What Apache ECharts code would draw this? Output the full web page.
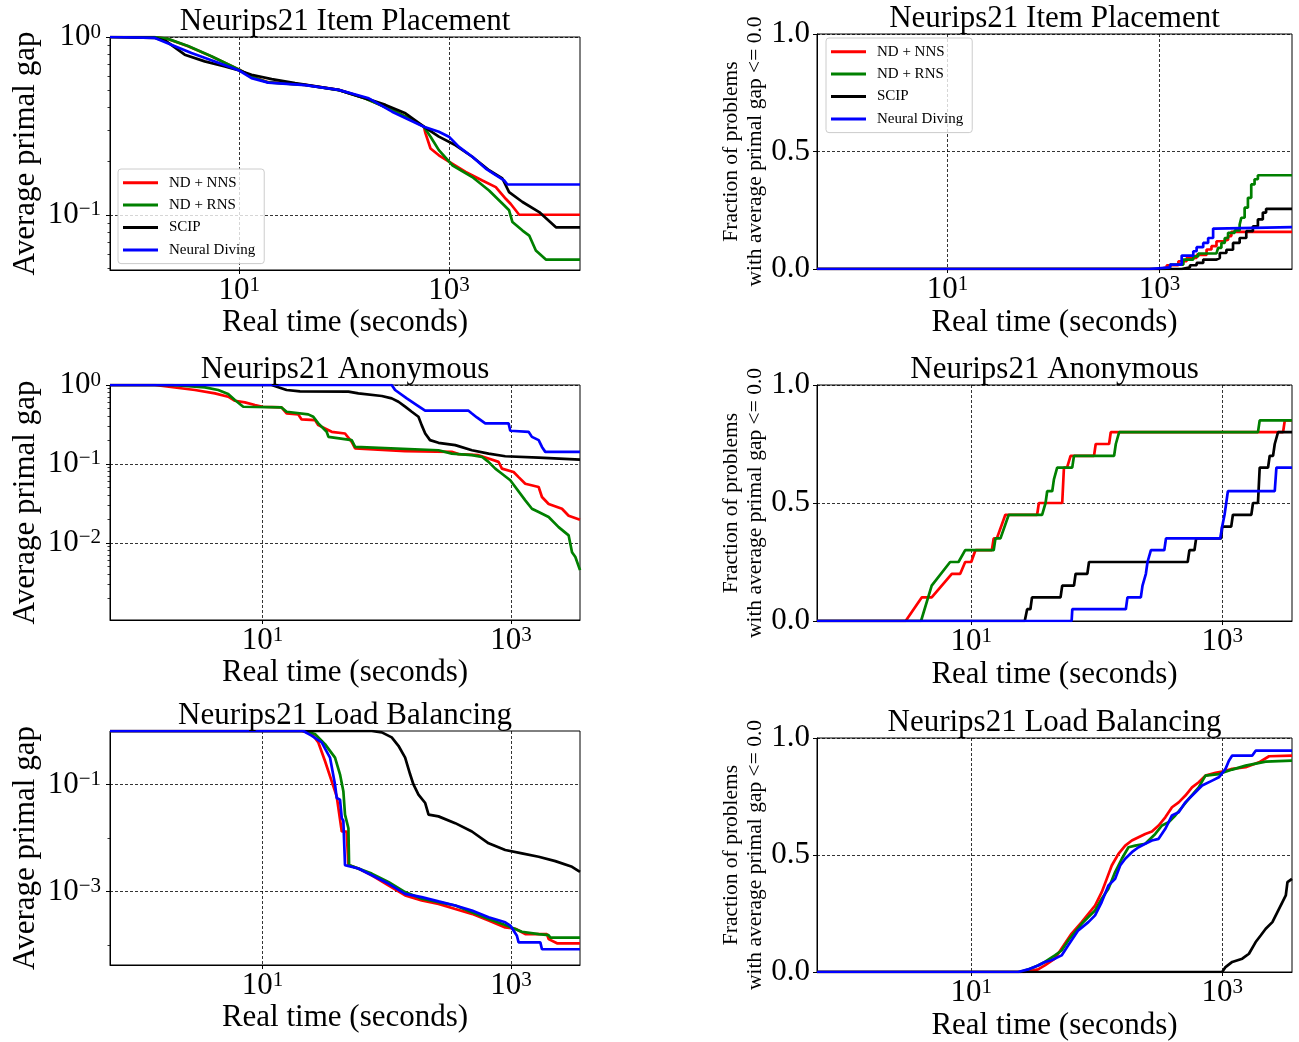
<!DOCTYPE html>
<html>
<head>
<meta charset="UTF-8">
<title>Neurips21 primal gap</title>
<script src="https://cdn.jsdelivr.net/npm/echarts/dist/echarts.min.js"></script>
<style>html,body{margin:0;padding:0;background:#fff;}</style>
</head>
<body>
<div id="main" style="width:1299px;height:1042px;"></div>
<script>
var FONT = '"Liberation Serif", "Times New Roman", serif';
var methods = ['ND + NNS', 'ND + RNS', 'SCIP', 'Neural Diving'];
var colors = ['#ff0000', '#008000', '#000000', '#0000ff'];
var titles = ['Neurips21 Item Placement', 'Neurips21 Item Placement',
  'Neurips21 Anonymous', 'Neurips21 Anonymous',
  'Neurips21 Load Balancing', 'Neurips21 Load Balancing'];

// ---- Item Placement: average primal gap (log-log)
var itemGapNNS = [[0.585,1],[1.55,1],[2.09,0.974],[3.25,0.886],[5.43,0.778],[10,0.654],[13.1,0.6],[18.9,0.557],[42.5,0.538],[88.5,0.504],[159,0.452],[287,0.389],[446,0.341],[577,0.313],[598,0.287],[668,0.236],[802,0.216],[1000,0.199],[1445,0.174],[2084,0.156],[2800,0.143],[3485,0.123],[3890,0.115],[4677,0.1],[17800,0.1]];
var itemGapRNS = [[0.585,1],[1.55,1],[2.09,0.976],[3.25,0.89],[5.43,0.78],[10,0.654],[13.1,0.598],[18.9,0.555],[42.5,0.537],[88.5,0.503],[159,0.451],[287,0.389],[446,0.341],[577,0.313],[668,0.275],[802,0.231],[1077,0.19],[1671,0.163],[2414,0.137],[3360,0.113],[3750,0.106],[4036,0.091],[5036,0.0815],[5833,0.0764],[6750,0.063],[8410,0.056],[17800,0.056]];
var itemGapSCIP = [[0.585,1],[1.55,0.99],[2.02,0.945],[3.02,0.795],[4.69,0.729],[7.3,0.683],[10,0.648],[13.1,0.613],[20.4,0.579],[34.1,0.55],[88.5,0.504],[172,0.446],[248,0.415],[385,0.372],[577,0.313],[802,0.275],[1159,0.246],[1671,0.212],[2414,0.178],[3236,0.16],[3750,0.134],[5036,0.118],[7265,0.1035],[10490,0.085],[17800,0.085]];
var itemGapND = [[0.585,1],[1.55,0.99],[2.25,0.905],[3.5,0.812],[5.85,0.729],[10,0.648],[13.1,0.587],[18.9,0.554],[42.5,0.536],[88.5,0.504],[172,0.452],[287,0.38],[577,0.313],[802,0.293],[1000,0.275],[1247,0.241],[1671,0.212],[2245,0.182],[2800,0.167],[3360,0.156],[3615,0.148],[17800,0.148]];

// ---- Item Placement: fraction solved (step)
var itemFracNNS = [[0.585,0],[1014,0.007],[1171,0.016],[1507,0.033],[1803,0.047],[2239,0.06],[2780,0.083],[3093,0.097],[3448,0.118],[3981,0.125],[4436,0.14],[4767,0.158],[17800,0.158]];
var itemFracRNS = [[0.585,0],[1130,0.007],[1259,0.019],[1679,0.04],[2083,0.054],[2321,0.066],[3448,0.068],[3574,0.09],[3838,0.111],[4127,0.132],[4436,0.154],[5120,0.164],[5705,0.189],[5915,0.218],[6357,0.261],[6829,0.303],[7340,0.36],[7890,0.382],[8480,0.399],[17800,0.399]];
var itemFracSCIP = [[0.585,0],[1619,0.007],[1939,0.016],[2239,0.026],[2585,0.04],[3448,0.047],[3706,0.068],[4277,0.082],[4940,0.111],[5705,0.132],[6590,0.161],[7606,0.182],[8480,0.211],[9440,0.24],[10140,0.256],[17800,0.256]];
var itemFracND = [[0.585,0],[805,0.007],[1259,0.019],[1619,0.057],[2083,0.0755],[2239,0.093],[2585,0.111],[2877,0.132],[3206,0.172],[3373,0.178],[17800,0.178]];

// ---- Anonymous: average primal gap
var anonGapNNS = [[0.59,1],[1.355,1],[2.85,0.864],[4.13,0.784],[5.28,0.711],[5.98,0.632],[7.2,0.602],[8.67,0.557],[10,0.53],[14.2,0.52],[15.6,0.436],[19.4,0.424],[20.6,0.366],[26.4,0.359],[28.1,0.31],[36,0.255],[46.1,0.243],[52.2,0.19],[55.6,0.157],[140.6,0.145],[334,0.142],[378,0.133],[548,0.129],[660,0.117],[795,0.106],[846,0.087],[1051,0.079],[1153,0.068],[1305,0.056],[1672,0.051],[1778,0.038],[2013,0.031],[2577,0.027],[2917,0.022],[3600,0.0196]];
var anonGapRNS = [[0.59,1],[1.85,1],[3.43,0.934],[4.39,0.864],[5.28,0.768],[5.98,0.645],[6.98,0.53],[14.2,0.52],[15.6,0.458],[23.3,0.424],[25.6,0.396],[28.1,0.326],[32.8,0.255],[33.9,0.22],[52.2,0.2],[55.6,0.164],[261,0.149],[334,0.135],[485,0.129],[583,0.123],[660,0.106],[748,0.087],[846,0.075],[988,0.062],[1305,0.0345],[1476,0.027],[1672,0.0245],[2013,0.0212],[2421,0.0158],[2917,0.0124],[3105,0.0076],[3304,0.0066],[3600,0.0045]];
var anonGapSCIP = [[0.59,1],[11.8,1],[15.6,0.864],[20,0.83],[49.1,0.823],[59.1,0.783],[91.2,0.725],[109.6,0.677],[124.2,0.614],[140.6,0.531],[159,0.458],[180,0.396],[191,0.31],[204,0.243],[223,0.2],[261,0.185],[356,0.173],[485,0.149],[661,0.135],[900,0.125],[1672,0.12],[3600,0.1135]];
var anonGapND = [[0.59,1],[109.6,1],[116.7,0.864],[144.9,0.677],[174.5,0.557],[203.6,0.472],[455.6,0.472],[485,0.436],[532,0.388],[621,0.326],[957,0.326],[988,0.263],[1387,0.255],[1476,0.22],[1672,0.2],[1778,0.164],[1891,0.142],[3600,0.142]];

// ---- Anonymous: fraction solved
var anonFracNNS = [[0.59,0],[3.0,0],[4.03,0.1],[4.84,0.1],[7.0,0.2],[8.17,0.2],[8.95,0.25],[10,0.25],[10.8,0.3],[14.6,0.3],[15.1,0.35],[16,0.35],[18.7,0.45],[33.5,0.45],[34.6,0.5],[53.1,0.5],[54.8,0.65],[58,0.65],[61.9,0.7],[95.2,0.7],[98.2,0.75],[125.5,0.75],[129.4,0.8],[3055,0.8],[3155,0.85],[3600,0.85]];
var anonFracRNS = [[0.59,0],[3.98,0],[4.84,0.15],[6.79,0.25],[7.92,0.25],[8.95,0.3],[15.1,0.3],[15.6,0.35],[17.1,0.35],[19.9,0.45],[36.7,0.45],[39.1,0.5],[40.3,0.55],[44.2,0.55],[45.6,0.6],[48.4,0.65],[63.8,0.65],[65.9,0.7],[137.6,0.7],[142,0.75],[151,0.8],[1928,0.8],[1990,0.85],[3600,0.85]];
var anonFracSCIP = [[0.59,0],[26.7,0],[27.9,0.05],[29.6,0.05],[30.5,0.1],[51.5,0.1],[53.1,0.15],[65.9,0.15],[67.9,0.2],[84.2,0.2],[86.8,0.25],[531,0.25],[548,0.3],[601,0.3],[620,0.35],[982,0.35],[1000,0.4],[1180,0.4],[1217,0.45],[1707,0.45],[1760,0.5],[1928,0.5],[1990,0.65],[2319,0.65],[2392,0.7],[2543,0.7],[2623,0.75],[2787,0.8],[3600,0.8]];
var anonFracND = [[0.59,0],[63.1,0],[63.9,0.05],[170.6,0.05],[175.8,0.1],[224.7,0.1],[231.7,0.15],[246.5,0.2],[254,0.25],[270.4,0.3],[345.6,0.3],[356.6,0.35],[964,0.35],[1000,0.4],[1044,0.45],[1077,0.5],[1110,0.55],[2623,0.55],[2704,0.65],[3600,0.65]];

// ---- Load Balancing: average primal gap
var loadGapNNS = [[0.59,1],[20.6,1],[24.8,0.904],[28.1,0.611],[31.8,0.275],[37.1,0.093],[39.5,0.0603],[43.4,0.0132],[47.5,0.0132],[49.1,0.0031],[59.1,0.00268],[75.7,0.002],[103,0.0013],[140.6,0.00084],[191,0.00068],[261,0.000585],[356,0.00047],[485,0.00038],[661,0.000284],[900,0.000212],[1085,0.0002],[1305,0.000159],[1950,0.000159],[2013,0.000128],[2350,0.000107],[3600,0.000107]];
var loadGapRNS = [[0.59,1],[21.9,1],[26.4,0.877],[31.8,0.569],[38.3,0.318],[42,0.155],[44.7,0.075],[46.1,0.0272],[49.1,0.0152],[49.7,0.0031],[75.7,0.00215],[103,0.0015],[140.6,0.00097],[191,0.00073],[261,0.00063],[356,0.000544],[485,0.000407],[661,0.000305],[900,0.000235],[1226,0.000176],[1672,0.000159],[2013,0.000152],[2075,0.000137],[3600,0.000137]];
var loadGapSCIP = [[0.59,1],[75.7,1],[91.2,0.944],[109.6,0.76],[124.2,0.529],[140.6,0.318],[154.2,0.155],[164,0.1],[180,0.0648],[204,0.045],[217,0.0272],[261,0.0253],[356,0.0189],[485,0.0132],[661,0.00794],[900,0.00594],[1226,0.00514],[1672,0.00445],[2278,0.00368],[3105,0.00288],[3600,0.00232]];
var loadGapND = [[0.59,1],[21.3,1],[24.8,0.817],[29.9,0.611],[34.9,0.318],[38.3,0.1],[39.5,0.056],[42,0.052],[43.4,0.0235],[44.7,0.021],[46.1,0.0031],[59.1,0.00268],[75.7,0.002],[103,0.0014],[140.6,0.0009],[191,0.00078],[261,0.00065],[356,0.000544],[485,0.000438],[661,0.000328],[900,0.000264],[988,0.00023],[1117,0.000148],[1153,0.000111],[1725,0.000111],[1778,0.0000828],[3600,0.0000828]];

// ---- Load Balancing: fraction solved
var loadFracNNS = [[0.59,0],[26.7,0],[34.1,0.011],[38.6,0.028],[46.4,0.057],[52.5,0.1],[63.1,0.164],[75.9,0.213],[85.8,0.249],[97,0.284],[109.6,0.341],[120.2,0.398],[131.8,0.455],[149,0.505],[168.7,0.54],[190.6,0.562],[215.4,0.576],[243.6,0.59],[275.4,0.6],[311.4,0.626],[352,0.661],[398,0.704],[450,0.725],[509,0.754],[575,0.789],[650,0.811],[735,0.839],[884,0.851],[1000,0.856],[1202,0.868],[1537,0.875],[1965,0.896],[2363,0.922],[3600,0.925]];
var loadFracRNS = [[0.59,0],[24.4,0],[28.4,0.011],[34.1,0.028],[38.6,0.043],[46.4,0.071],[52.5,0.092],[59.3,0.135],[67.1,0.171],[75.9,0.206],[85.8,0.235],[97,0.263],[109.6,0.313],[124,0.356],[140.2,0.427],[158.5,0.484],[179.2,0.533],[202.6,0.54],[243.6,0.548],[292.8,0.59],[331,0.626],[374,0.64],[423,0.669],[478.6,0.704],[541,0.74],[650,0.789],[735,0.839],[940,0.846],[1202,0.865],[1537,0.882],[2223,0.899],[3600,0.903]];
var loadFracSCIP = [[0.59,0],[1000,0],[1063,0.021],[1202,0.043],[1445,0.057],[1634,0.078],[1848,0.128],[2026,0.156],[2223,0.185],[2512,0.213],[2754,0.256],[3020,0.299],[3212,0.327],[3312,0.384],[3600,0.398]];
var loadFracND = [[0.59,0],[23.6,0],[28.4,0.011],[34.1,0.028],[38.6,0.043],[43.6,0.05],[52.5,0.071],[59.3,0.114],[71.3,0.178],[85.8,0.213],[97,0.242],[109.6,0.299],[124,0.37],[140.2,0.398],[153.8,0.455],[168.7,0.484],[190.6,0.512],[215.4,0.533],[243.6,0.548],[275.4,0.562],[311.4,0.569],[352,0.612],[398,0.669],[450,0.683],[509,0.725],[611.8,0.768],[691.6,0.797],[831.8,0.818],[940,0.832],[1063,0.868],[1131,0.903],[1202,0.925],[1738,0.925],[1848,0.946],[3600,0.946]];

var panelData = [
  [itemGapNNS, itemGapRNS, itemGapSCIP, itemGapND],
  [itemFracNNS, itemFracRNS, itemFracSCIP, itemFracND],
  [anonGapNNS, anonGapRNS, anonGapSCIP, anonGapND],
  [anonFracNNS, anonFracRNS, anonFracSCIP, anonFracND],
  [loadGapNNS, loadGapRNS, loadGapSCIP, loadGapND],
  [loadFracNNS, loadFracRNS, loadFracSCIP, loadFracND]
];
var xRanges = [[0.585, 17800], [0.585, 17800], [0.59, 3600], [0.59, 3600], [0.59, 3600], [0.59, 3600]];
var yLogMin = [0.0489, null, 0.00105, null, 0.000042, null];
var yLogTicks = [[1, 0.1], null, [1, 0.1, 0.01], null, [0.1, 0.001], null];
var yMinorTicks = [
  [0.05, 0.06, 0.07, 0.08, 0.09, 0.2, 0.3, 0.4, 0.5, 0.6, 0.7, 0.8, 0.9],
  null,
  [0.002, 0.003, 0.004, 0.005, 0.006, 0.007, 0.008, 0.009, 0.02, 0.03, 0.04, 0.05, 0.06, 0.07, 0.08, 0.09,
   0.2, 0.3, 0.4, 0.5, 0.6, 0.7, 0.8, 0.9],
  null,
  [0.0001, 0.01],
  null
];
var xTicks = [10, 1000];

var grids = [
  {left: 110, top: 37, width: 470, height: 233},
  {left: 817, top: 34, width: 475, height: 235},
  {left: 110, top: 385, width: 470, height: 235},
  {left: 817, top: 385, width: 475, height: 236},
  {left: 110, top: 731, width: 470, height: 234},
  {left: 817, top: 738, width: 475, height: 235}
];
var xNameGap = [37, 38, 35, 38, 37, 38];

var dash = {color: '#000', width: 0.8, type: [3, 2]};
var supRich = {
  b: {fontFamily: FONT, fontSize: 31, color: '#000', lineHeight: 31, padding: [5, 0, 0, 0], verticalAlign: 'bottom'},
  s: {fontFamily: FONT, fontSize: 21, color: '#000', lineHeight: 21, verticalAlign: 'top'}
};
function powLabel(v) {
  var e = Math.round(Math.log(v) / Math.LN10);
  return '{b|10}{s|' + (e < 0 ? '\u2212' + (-e) : e) + '}';
}

var option = {
  animation: false,
  backgroundColor: '#ffffff',
  title: [], grid: [], xAxis: [], yAxis: [], series: [],
  legend: []
};

for (var i = 0; i < 6; i++) {
  var g = grids[i];
  var isGap = (i % 2 === 0);
  option.grid.push({left: g.left, top: g.top, width: g.width, height: g.height,
    show: true, borderColor: '#000', borderWidth: 1, containLabel: false});
  option.title.push({
    text: titles[i], left: g.left + g.width / 2, top: g.top - 31, textAlign: 'center', padding: 0,
    textStyle: {fontFamily: FONT, fontSize: 31, fontWeight: 'normal', color: '#000'}
  });
  option.xAxis.push({
    type: 'log', logBase: 10, gridIndex: i, min: xRanges[i][0], max: xRanges[i][1],
    name: 'Real time (seconds)', nameLocation: 'middle', nameGap: xNameGap[i],
    nameTextStyle: {fontFamily: FONT, fontSize: 31, color: '#000'},
    axisLine: {show: true, lineStyle: {color: '#000', width: 1}},
    axisTick: {show: true, length: 4, inside: false, customValues: xTicks, lineStyle: {color: '#000'}},
    axisLabel: {customValues: xTicks, formatter: powLabel, rich: supRich, margin: 5},
    splitLine: {show: true, lineStyle: dash}
  });
  if (isGap) {
    option.yAxis.push({
      type: 'log', logBase: 10, gridIndex: i, min: yLogMin[i], max: 1,
      name: 'Average primal gap', nameLocation: 'middle', nameGap: 69,
      nameTextStyle: {fontFamily: FONT, fontSize: 31, color: '#000'},
      axisLine: {show: true, lineStyle: {color: '#000', width: 1}},
      axisTick: {show: true, length: 4, customValues: yLogTicks[i], lineStyle: {color: '#000'}},
      axisLabel: {customValues: yLogTicks[i], formatter: powLabel, rich: supRich, margin: 9},
      splitLine: {show: true, lineStyle: dash}
    });
  } else {
    option.yAxis.push({
      type: 'value', gridIndex: i, min: 0, max: 1, interval: 0.5,
      name: 'Fraction of problems\nwith average primal gap <= 0.0', nameLocation: 'middle', nameGap: 46,
      nameTextStyle: {fontFamily: FONT, fontSize: 21.5, lineHeight: 24, color: '#000'},
      axisLine: {show: true, lineStyle: {color: '#000', width: 1}},
      axisTick: {show: true, length: 4, lineStyle: {color: '#000'}},
      axisLabel: {fontFamily: FONT, fontSize: 31, color: '#000', margin: 7,
        formatter: function (v) { return v.toFixed(1); }},
      splitLine: {show: true, lineStyle: dash}
    });
  }
  for (var k = 0; k < 4; k++) {
    option.series.push({
      name: methods[k], type: 'line', xAxisIndex: i, yAxisIndex: i,
      data: panelData[i][k], showSymbol: false, symbol: 'none',
      step: (i === 1) ? 'end' : false,
      lineStyle: {color: colors[k], width: 2.7}, itemStyle: {color: colors[k]},
      clip: true
    });
  }
}

// minor ticks of the log y axes, as a second tick-only axis on the same grid
for (var j = 0; j < 6; j++) {
  if (!yMinorTicks[j]) continue;
  option.yAxis.push({
    type: 'log', logBase: 10, gridIndex: j, position: 'left', offset: 0,
    min: yLogMin[j], max: 1,
    axisLine: {show: false},
    axisTick: {show: true, length: 2.5, customValues: yMinorTicks[j], lineStyle: {color: '#000', width: 0.8}},
    axisLabel: {show: false},
    splitLine: {show: false}
  });
}

var legendBase = {
  orient: 'vertical', data: methods, icon: 'rect', itemWidth: 35, itemHeight: 3,
  itemGap: 7, padding: [6, 9, 6, 5], borderColor: '#cccccc', borderWidth: 1, borderRadius: 3,
  backgroundColor: 'rgba(255,255,255,0.8)', selectedMode: false,
  textStyle: {fontFamily: FONT, fontSize: 15, lineHeight: 15.4, color: '#000', padding: [0, 0, 0, 6]}
};
option.legend.push(Object.assign({}, legendBase, {left: 118, top: 169}));
option.legend.push(Object.assign({}, legendBase, {left: 826, top: 38}));

var myChart = echarts.init(document.getElementById('main'), null, {renderer: 'canvas'});
myChart.setOption(option);
</script>
</body>
</html>
